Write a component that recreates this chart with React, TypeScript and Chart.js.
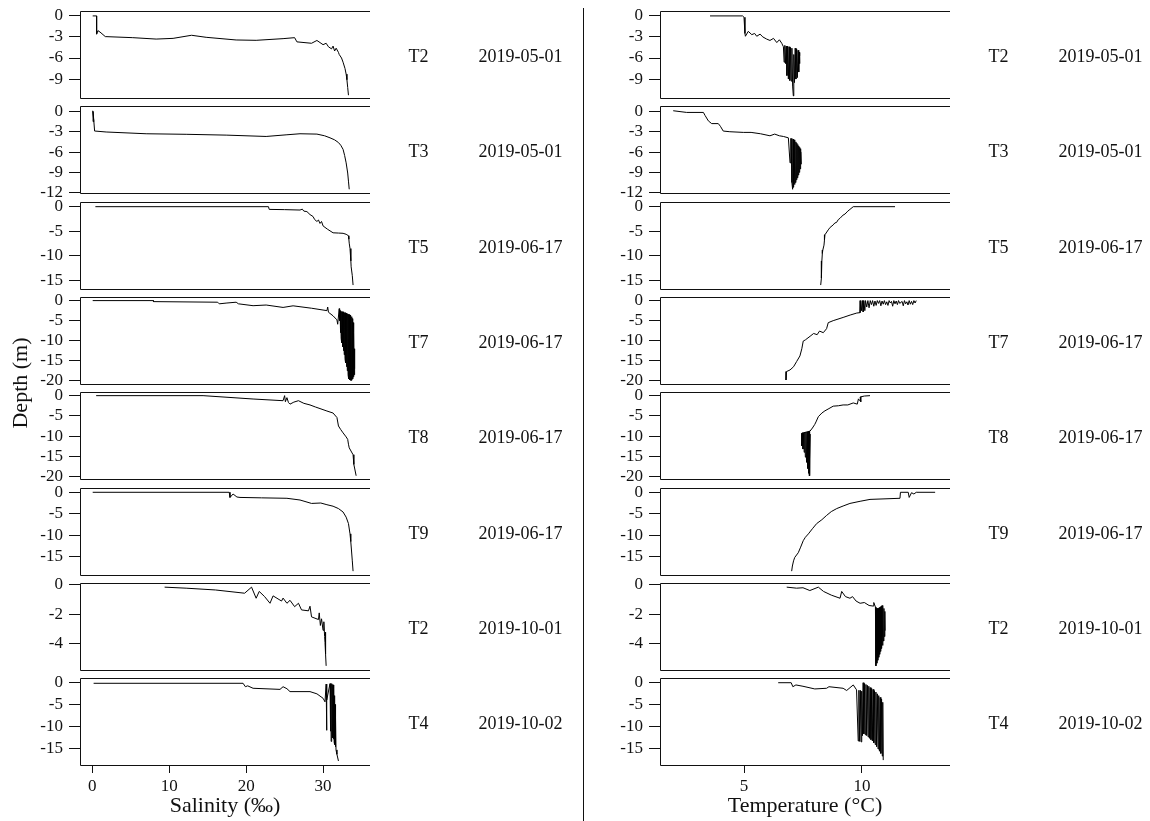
import React, { useEffect, useRef } from 'react';
import { Chart, registerables } from 'chart.js';

Chart.register(...registerables);

type P = [number, number];

// ---------- labels ----------
const stations = ['T2', 'T3', 'T5', 'T7', 'T8', 'T9', 'T2', 'T4'];
const dates = ['2019-05-01', '2019-05-01', '2019-06-17', '2019-06-17', '2019-06-17', '2019-06-17', '2019-10-01', '2019-10-02'];
const salTitle = 'Salinity (‰)';
const tmpTitle = 'Temperature (°C)';
const depthTitle = 'Depth (m)';

// ---------- axes ----------
const depthMin = [-11.7, -12.05, -16.7, -20.8, -20.6, -19.3, -5.76, -18.6];
const depthMax = [0.7, 0.8, 0.95, 0.9, 0.9, 1.0, 0.12, 0.96];
const depthTicks = [
  [0, -3, -6, -9],
  [0, -3, -6, -9, -12],
  [0, -5, -10, -15],
  [0, -5, -10, -15, -20],
  [0, -5, -10, -15, -20],
  [0, -5, -10, -15],
  [0, -2, -4],
  [0, -5, -10, -15],
];
const salRange = [-1.6, 36.1];
const salTicks = [0, 10, 20, 30];
const tmpRange = [1.44, 13.73];
const tmpTicks = [5, 10];

// ---------- salinity profiles [salinity, depth] ----------
const salT2May: P[] = [[0.05,0],[0.56,0],[0.56,-2.6],[0.73,-2.1],[1.0,-2.3],[1.69,-2.95],[5.26,-3.1],[8.3,-3.3],[10.5,-3.2],[12.9,-2.76],[14.8,-3.05],[18.7,-3.43],[21.3,-3.48],[24.8,-3.24],[26.3,-3.1],[26.6,-3.7],[28.5,-3.9],[29.2,-3.5],[29.6,-3.8],[30.0,-4.1],[30.4,-3.9],[30.7,-4.4],[31.1,-4.7],[31.3,-4.3],[31.5,-5.0],[31.7,-4.6],[32.0,-5.2],[32.1,-5.5],[32.4,-6.0],[32.6,-6.6],[32.85,-7.5],[33.0,-8.3],[33.1,-9.1],[33.2,-10.2],[33.3,-11.3]];
const salT3May: P[] = [[0.05,0.1],[0.2,-1.5],[0.1,0],[0.3,-2.9],[0.35,-2.9],[1.8,-3.04],[7.0,-3.3],[12.2,-3.38],[17.4,-3.5],[22.6,-3.7],[25.3,-3.45],[27.0,-3.3],[29.2,-3.35],[30.2,-3.6],[30.9,-3.9],[31.5,-4.2],[32.0,-4.6],[32.3,-5.0],[32.6,-5.6],[32.8,-6.5],[33.0,-7.6],[33.2,-9.1],[33.3,-10.3],[33.4,-11.5]];
const salT5Jun: P[] = [[0.4,0],[22.9,0],[23.0,-0.55],[25.0,-0.6],[27.0,-0.68],[27.3,-0.5],[27.5,-0.9],[27.9,-1.0],[28.3,-1.6],[28.7,-2.0],[28.9,-2.6],[29.2,-3.0],[29.4,-2.7],[29.6,-3.4],[29.8,-3.0],[30.0,-3.9],[30.25,-4.2],[30.6,-4.6],[30.9,-4.9],[31.3,-5.3],[32.0,-5.35],[32.6,-5.4],[33.0,-5.6],[33.3,-5.9],[33.35,-6.6],[33.4,-7.4],[33.5,-8.5],[33.6,-9.5],[33.62,-11],[33.65,-12.2],[33.8,-14],[33.9,-15.9]];
const salT7Jun: P[] = [[0.05,0],[7.95,0],[7.95,-0.25],[16.3,-0.4],[16.5,-0.8],[17.5,-0.6],[18.7,-0.4],[19.0,-0.8],[20.9,-1.27],[22.6,-1.1],[24.8,-1.7],[26.1,-1.3],[28.5,-1.9],[30.5,-2.5],[30.6,-1.6],[30.7,-2.9],[31.3,-3.8],[31.8,-4.8],[31.9,-5.9],[32.1,-2.0],[32.15,-5],[32.2,-2.5],[32.25,-8],[32.3,-2.6],[32.35,-9.5],[32.4,-2.7],[32.45,-10.5],[32.5,-2.8],[32.55,-11.5],[32.6,-2.8],[32.65,-12.5],[32.7,-2.9],[32.75,-13.5],[32.8,-3.0],[32.85,-14.5],[32.9,-3.0],[32.95,-15.5],[33.0,-3.1],[33.05,-16.5],[33.1,-3.2],[33.15,-17.5],[33.2,-3.3],[33.25,-18.5],[33.3,-3.4],[33.35,-19.5],[33.4,-3.5],[33.45,-19.8],[33.5,-3.6],[33.55,-19.9],[33.6,-3.8],[33.65,-19.9],[33.7,-4.0],[33.75,-19.8],[33.8,-4.5],[33.85,-19.5],[33.9,-5.5],[33.95,-19],[34.0,-8],[34.05,-18.5],[34.1,-12],[34.1,-17]];
const salT8Jun: P[] = [[0.5,0],[14.4,0],[20.9,-0.83],[24.8,-1.25],[25.0,0],[25.1,-1.5],[25.3,-0.5],[25.5,-1.7],[25.7,-2.1],[26.2,-1.6],[26.8,-1.25],[27.5,-1.9],[28.3,-2.3],[29.0,-2.8],[29.6,-3.2],[30.5,-3.8],[31.3,-4.3],[31.8,-5.4],[32.0,-7.5],[32.3,-8.4],[32.6,-9.2],[33.0,-10.2],[33.2,-10.8],[33.3,-12],[33.4,-12.9],[33.9,-14.6],[34.0,-17],[34.3,-19.8]];
const salT9Jun: P[] = [[0.05,0],[17.8,0],[17.9,-1.2],[18.3,-0.4],[18.8,-1.1],[19.2,-1.2],[22,-1.3],[25.3,-1.4],[27.0,-1.8],[28.5,-2.6],[29.7,-2.5],[30.5,-2.9],[31.3,-3.25],[32.0,-3.8],[32.6,-4.6],[33.0,-5.8],[33.3,-7.3],[33.5,-9.7],[33.6,-11.5],[33.7,-13.7],[33.8,-16],[33.9,-18.4]];
const salT2Oct: P[] = [[9.4,-0.16],[12.2,-0.23],[16,-0.35],[19.8,-0.57],[20.7,-0.16],[21.3,-0.91],[21.7,-0.45],[22.4,-0.8],[23.1,-1.25],[23.5,-0.75],[24.6,-1.1],[24.8,-0.9],[25.3,-1.25],[25.7,-1.05],[26.3,-1.48],[26.8,-1.25],[27.2,-1.7],[28.1,-1.76],[28.3,-1.45],[28.5,-2.17],[29.4,-2.35],[29.5,-1.9],[29.65,-2.75],[29.8,-2.3],[30.0,-3.08],[30.1,-2.5],[30.2,-3.5],[30.25,-3.9],[30.3,-3.2],[30.35,-4.7],[30.4,-5.48]];
const salT4Oct: P[] = [[0.17,-0.23],[19.6,-0.23],[19.9,-1.0],[20.2,-0.8],[20.9,-1.35],[24.4,-1.6],[24.8,-1.0],[25.3,-1.45],[25.7,-2.1],[28.3,-2.1],[29.2,-2.6],[30.0,-3.6],[30.25,-4.4],[30.4,-0.4],[30.45,-10.8],[30.5,-4],[30.9,-0.3],[30.95,-11],[31.0,-0.4],[31.05,-13.3],[31.08,-0.3],[31.12,-12],[31.16,-0.4],[31.2,-11.5],[31.24,-0.5],[31.28,-12.5],[31.32,-0.6],[31.36,-12.8],[31.4,-1.5],[31.44,-13.5],[31.48,-3],[31.52,-14],[31.56,-5],[31.6,-14.5],[31.64,-8],[31.68,-15.2],[31.8,-16.2],[32.0,-17.7]];

// ---------- temperature profiles [temperature, depth] ----------
const tmpT2May: P[] = [[3.56,0],[4.94,0],[5.0,-0.2],[5.04,-2.5],[5.06,-2.9],[5.18,-2.2],[5.33,-2.67],[5.45,-2.5],[5.54,-2.9],[5.68,-2.6],[5.8,-3.0],[5.96,-3.3],[6.1,-3.5],[6.25,-3.2],[6.39,-3.8],[6.5,-3.4],[6.6,-3.9],[6.67,-4.4],[6.7,-6.6],[6.73,-4.2],[6.76,-6.8],[6.79,-4.3],[6.82,-8.5],[6.85,-4.3],[6.88,-9.0],[6.91,-4.4],[6.94,-9.2],[6.97,-4.5],[7.0,-9.3],[7.03,-4.6],[7.06,-10],[7.09,-11.4],[7.11,-5.5],[7.14,-9.5],[7.17,-4.6],[7.2,-9.0],[7.23,-4.7],[7.26,-8.8],[7.29,-4.9],[7.32,-8.0],[7.35,-5.2],[7.37,-6.8],[7.35,-5.7]];
const tmpT3May: P[] = [[2.0,0.1],[2.57,-0.15],[3.28,-0.15],[3.35,-0.6],[3.49,-1.4],[3.63,-1.8],[3.91,-1.8],[4.0,-2.2],[4.12,-2.9],[4.4,-3.0],[4.97,-3.1],[5.3,-3.1],[5.7,-3.3],[6.1,-3.6],[6.3,-3.35],[6.5,-3.6],[6.67,-3.7],[6.88,-3.9],[6.95,-7.6],[6.98,-4.0],[7.0,-4.0],[7.03,-10.5],[7.06,-11.5],[7.08,-4.1],[7.1,-11.2],[7.12,-4.2],[7.14,-10.8],[7.16,-4.3],[7.18,-10.5],[7.2,-4.5],[7.22,-10.1],[7.24,-4.7],[7.26,-9.8],[7.28,-4.9],[7.3,-9.4],[7.32,-5.1],[7.34,-9.0],[7.36,-5.3],[7.38,-8.5],[7.4,-5.5],[7.42,-7.8],[7.41,-6]];
const tmpT5Jun: P[] = [[11.4,0],[9.63,0],[9.49,-0.55],[9.4,-0.9],[9.28,-1.5],[9.2,-1.7],[9.07,-2.35],[9.0,-2.6],[8.92,-3.2],[8.85,-3.3],[8.78,-3.7],[8.65,-4.2],[8.57,-4.7],[8.43,-5.7],[8.41,-6.8],[8.39,-7.8],[8.34,-8.8],[8.32,-9.5],[8.3,-11],[8.29,-12.8],[8.27,-14.5],[8.25,-15.9]];
const tmpT7Jun: P[] = [[12.3,0],[12.25,-0.6],[12.2,0],[12.15,-1.0],[12.1,-0.2],[12.05,-0.9],[12.0,0],[11.95,-1.1],[11.9,-0.3],[11.85,-0.8],[11.8,0],[11.75,-1.3],[11.7,-0.2],[11.6,-0.7],[11.55,0],[11.5,-1.0],[11.45,-0.1],[11.4,-0.8],[11.35,0],[11.3,-1.4],[11.25,-0.2],[11.2,-0.6],[11.15,0],[11.1,-1.2],[11.05,-0.3],[11.0,-1.0],[10.95,0],[10.9,-0.9],[10.85,-0.1],[10.8,-1.3],[10.75,0],[10.7,-0.7],[10.65,0],[10.6,-1.2],[10.55,-0.1],[10.5,-1.4],[10.45,0],[10.4,-1.0],[10.35,0],[10.3,-1.8],[10.25,0],[10.2,-1.6],[10.15,0],[10.12,-2.5],[10.08,0],[10.05,-2.8],[10.02,0],[9.98,-2.5],[9.95,0],[9.92,-3.0],[9.78,-3.1],[9.5,-3.6],[9.2,-4.2],[8.78,-5.0],[8.57,-5.5],[8.5,-7.0],[8.36,-8.0],[8.2,-7.6],[8.1,-8.5],[7.95,-8.2],[7.8,-8.9],[7.6,-9.8],[7.51,-10.1],[7.45,-12],[7.37,-13.8],[7.23,-15.2],[7.1,-16.5],[6.95,-17.3],[6.8,-17.7],[6.78,-19.8]];
const tmpT8Jun: P[] = [[10.34,0],[10.1,-0.1],[9.92,-0.33],[9.95,-1.5],[9.85,-0.8],[9.8,-2.1],[9.63,-1.8],[9.4,-2.3],[9.2,-2.3],[9.0,-2.5],[8.78,-2.6],[8.6,-3.2],[8.43,-3.75],[8.3,-4.3],[8.15,-5.2],[8.05,-6.5],[8.0,-7.1],[7.9,-8],[7.8,-8.75],[7.45,-9.3],[7.45,-12.4],[7.475,-9.2],[7.5,-13.2],[7.525,-9.2],[7.55,-14.0],[7.575,-9.1],[7.6,-15.2],[7.625,-9.0],[7.65,-16.5],[7.675,-9.0],[7.7,-18.0],[7.725,-8.9],[7.75,-19.2],[7.775,-8.8],[7.78,-19.8],[7.8,-9.5],[7.76,-19.8]];
const tmpT9Jun: P[] = [[13.1,0],[12.3,0],[12.2,-0.4],[12.1,-0.1],[12.0,-1.2],[11.96,0],[11.63,0],[11.61,-1.4],[10.34,-1.66],[9.92,-2.1],[9.49,-2.6],[9.2,-3.2],[8.93,-3.8],[8.7,-4.5],[8.5,-5.4],[8.3,-6.4],[8.08,-7.3],[7.9,-8.5],[7.73,-9.7],[7.6,-10.5],[7.51,-11.3],[7.4,-12.8],[7.3,-14.1],[7.15,-15.2],[7.1,-16.0],[7.05,-17.2],[7.02,-18.4]];
const tmpT2Oct: P[] = [[6.81,-0.16],[7.23,-0.23],[7.5,-0.2],[7.79,-0.39],[8.15,-0.16],[8.37,-0.45],[8.7,-0.7],[9.07,-0.91],[9.14,-0.45],[9.3,-0.8],[9.49,-0.91],[9.6,-0.8],[9.75,-1.1],[9.92,-1.25],[10.1,-1.2],[10.3,-1.4],[10.48,-1.44],[10.5,-1.2],[10.57,-1.5],[10.59,-5.48],[10.61,-1.6],[10.63,-5.3],[10.65,-1.6],[10.67,-5.1],[10.69,-1.6],[10.71,-4.9],[10.73,-1.55],[10.75,-4.7],[10.77,-1.5],[10.79,-4.5],[10.81,-1.45],[10.83,-4.3],[10.85,-1.4],[10.87,-4.1],[10.89,-1.45],[10.91,-3.8],[10.93,-1.6],[10.95,-3.5],[10.97,-1.8],[10.98,-3.1]];
const tmpT4Oct: P[] = [[6.45,-0.1],[7.0,-0.1],[7.07,-1.0],[7.2,-0.6],[7.5,-0.9],[8.0,-1.5],[8.5,-1.35],[8.6,-1.0],[9.2,-1.35],[9.35,-1.85],[9.63,-0.6],[9.77,-1.7],[9.84,-13.2],[9.87,-1.8],[9.9,-13.3],[9.93,-1.8],[9.96,-13.4],[9.99,-2.0],[10.02,-12],[10.05,-0.1],[10.08,-11.6],[10.11,-0.3],[10.14,-11.8],[10.17,-0.5],[10.2,-12.0],[10.23,-0.7],[10.26,-12.3],[10.29,-0.9],[10.32,-12.6],[10.35,-1.2],[10.38,-12.9],[10.41,-1.4],[10.44,-13.2],[10.47,-1.6],[10.5,-13.6],[10.53,-1.9],[10.56,-14.0],[10.59,-2.2],[10.62,-14.5],[10.65,-2.6],[10.68,-15.0],[10.71,-3.0],[10.74,-15.5],[10.77,-3.4],[10.8,-16.0],[10.83,-3.8],[10.86,-16.6],[10.88,-4.5],[10.9,-17.5]];

const salProfiles = [salT2May, salT3May, salT5Jun, salT7Jun, salT8Jun, salT9Jun, salT2Oct, salT4Oct];
const tmpProfiles = [tmpT2May, tmpT3May, tmpT5Jun, tmpT7Jun, tmpT8Jun, tmpT9Jun, tmpT2Oct, tmpT4Oct];

// ---------- layout ----------
const FONT = '"Liberation Serif", "DejaVu Serif", serif';
const PLOT_W = 290;
const PLOT_H = 87;
const AXIS_W = 80;
const PAD_T = 20;
const PAD_B = 20;
const PAD_R = 4;
const XAXIS_H = 60;
const LEFT_COL_X = 80;
const RIGHT_COL_X = 660;
const rowTop = (i: number) => Math.round(11 + i * 95.3);

const framePlugin = {
  id: 'cframe',
  afterDraw(chart: any) {
    const { ctx, chartArea } = chart;
    const l = Math.round(chartArea.left) + 0.5;
    const r = Math.round(chartArea.right);
    const t = Math.round(chartArea.top) + 0.5;
    const b = Math.round(chartArea.bottom) + 0.5;
    ctx.save();
    ctx.strokeStyle = '#111';
    ctx.lineWidth = 1;
    ctx.beginPath();
    ctx.moveTo(r, t);
    ctx.lineTo(l, t);
    ctx.lineTo(l, b);
    ctx.lineTo(r, b);
    ctx.stroke();
    ctx.restore();
  },
};

type PanelProps = {
  pts: P[];
  row: number;
  colX: number;
  xMin: number;
  xMax: number;
  xTicks: number[];
  showX: boolean;
  xTitle: string;
};

function Panel({ pts, row, colX, xMin, xMax, xTicks, showX, xTitle }: PanelProps) {
  const ref = useRef<HTMLCanvasElement | null>(null);
  const width = AXIS_W + PLOT_W + PAD_R;
  const height = PAD_T + PLOT_H + (showX ? XAXIS_H : PAD_B);
  const left = colX - AXIS_W;
  const top = rowTop(row) - PAD_T;

  useEffect(() => {
    if (!ref.current) return;
    const yt = depthTicks[row];
    const chart = new Chart(ref.current, {
      type: 'scatter',
      data: {
        datasets: [
          {
            data: pts.map(([x, y]) => ({ x, y })),
            showLine: true,
            borderColor: '#000',
            borderWidth: 1,
            pointRadius: 0,
            pointHoverRadius: 0,
            fill: false,
            tension: 0,
          } as any,
        ],
      },
      options: {
        responsive: false,
        animation: false,
        devicePixelRatio: 1,
        events: [],
        layout: { padding: { top: PAD_T, bottom: showX ? 0 : PAD_B, left: 0, right: PAD_R } },
        plugins: { legend: { display: false }, tooltip: { enabled: false } },
        scales: {
          x: {
            type: 'linear',
            min: xMin,
            max: xMax,
            display: showX,
            afterBuildTicks: (s: any) => {
              s.ticks = xTicks.map((v) => ({ value: v }));
            },
            afterFit: (s: any) => {
              s.height = showX ? XAXIS_H : 0;
            },
            grid: { display: true, drawOnChartArea: false, drawTicks: true, tickLength: 8, color: '#111' },
            border: { display: false },
            ticks: {
              font: { family: FONT, size: 17 },
              color: '#111',
              padding: 3,
              maxRotation: 0,
              autoSkip: false,
              callback: (v: any) => String(v),
            },
            title: {
              display: true,
              text: xTitle,
              font: { family: FONT, size: 22 },
              color: '#111',
              padding: { top: 0, bottom: 6 },
            },
          },
          y: {
            type: 'linear',
            min: depthMin[row],
            max: depthMax[row],
            afterBuildTicks: (s: any) => {
              s.ticks = yt.map((v) => ({ value: v }));
            },
            afterFit: (s: any) => {
              s.width = AXIS_W;
            },
            grid: { display: true, drawOnChartArea: false, drawTicks: true, tickLength: 11, color: '#111' },
            border: { display: false },
            ticks: {
              font: { family: FONT, size: 17 },
              color: '#111',
              padding: 6,
              autoSkip: false,
              callback: (v: any) => String(v),
            },
          },
        },
      } as any,
      plugins: [framePlugin],
    });
    return () => chart.destroy();
  }, []);

  return (
    <canvas
      ref={ref}
      width={width}
      height={height}
      style={{ position: 'absolute', left, top, width, height }}
    />
  );
}

const labelStyle = (cx: number, row: number): React.CSSProperties => ({
  position: 'absolute',
  left: cx - 60,
  width: 120,
  top: rowTop(row) + PLOT_H / 2 + 1 - 11,
  height: 22,
  lineHeight: '22px',
  textAlign: 'center',
  fontSize: 18,
  fontFamily: FONT,
  color: '#111',
  whiteSpace: 'nowrap',
});

export default function App() {
  return (
    <div
      style={{
        position: 'absolute',
        left: 0,
        top: 0,
        width: 1150,
        height: 821,
        overflow: 'hidden',
        background: '#fff',
        fontFamily: FONT,
      }}
    >
      {salProfiles.map((pts, i) => (
        <Panel
          key={'s' + i}
          pts={pts}
          row={i}
          colX={LEFT_COL_X}
          xMin={salRange[0]}
          xMax={salRange[1]}
          xTicks={salTicks}
          showX={i === salProfiles.length - 1}
          xTitle={salTitle}
        />
      ))}
      {tmpProfiles.map((pts, i) => (
        <Panel
          key={'t' + i}
          pts={pts}
          row={i}
          colX={RIGHT_COL_X}
          xMin={tmpRange[0]}
          xMax={tmpRange[1]}
          xTicks={tmpTicks}
          showX={i === tmpProfiles.length - 1}
          xTitle={tmpTitle}
        />
      ))}
      {stations.map((s, i) => (
        <React.Fragment key={'l' + i}>
          <div style={labelStyle(418.5, i)}>{s}</div>
          <div style={labelStyle(520.5, i)}>{dates[i]}</div>
          <div style={labelStyle(998.5, i)}>{s}</div>
          <div style={labelStyle(1100.5, i)}>{dates[i]}</div>
        </React.Fragment>
      ))}
      <div
        style={{
          position: 'absolute',
          left: 20 - 70,
          top: 383 - 14,
          width: 140,
          height: 28,
          lineHeight: '28px',
          textAlign: 'center',
          fontSize: 22,
          fontFamily: FONT,
          color: '#111',
          transform: 'rotate(-90deg)',
          whiteSpace: 'nowrap',
        }}
      >
        {depthTitle}
      </div>
      <div style={{ position: 'absolute', left: 583, top: 8, width: 1, height: 813, background: '#111' }} />
    </div>
  );
}
